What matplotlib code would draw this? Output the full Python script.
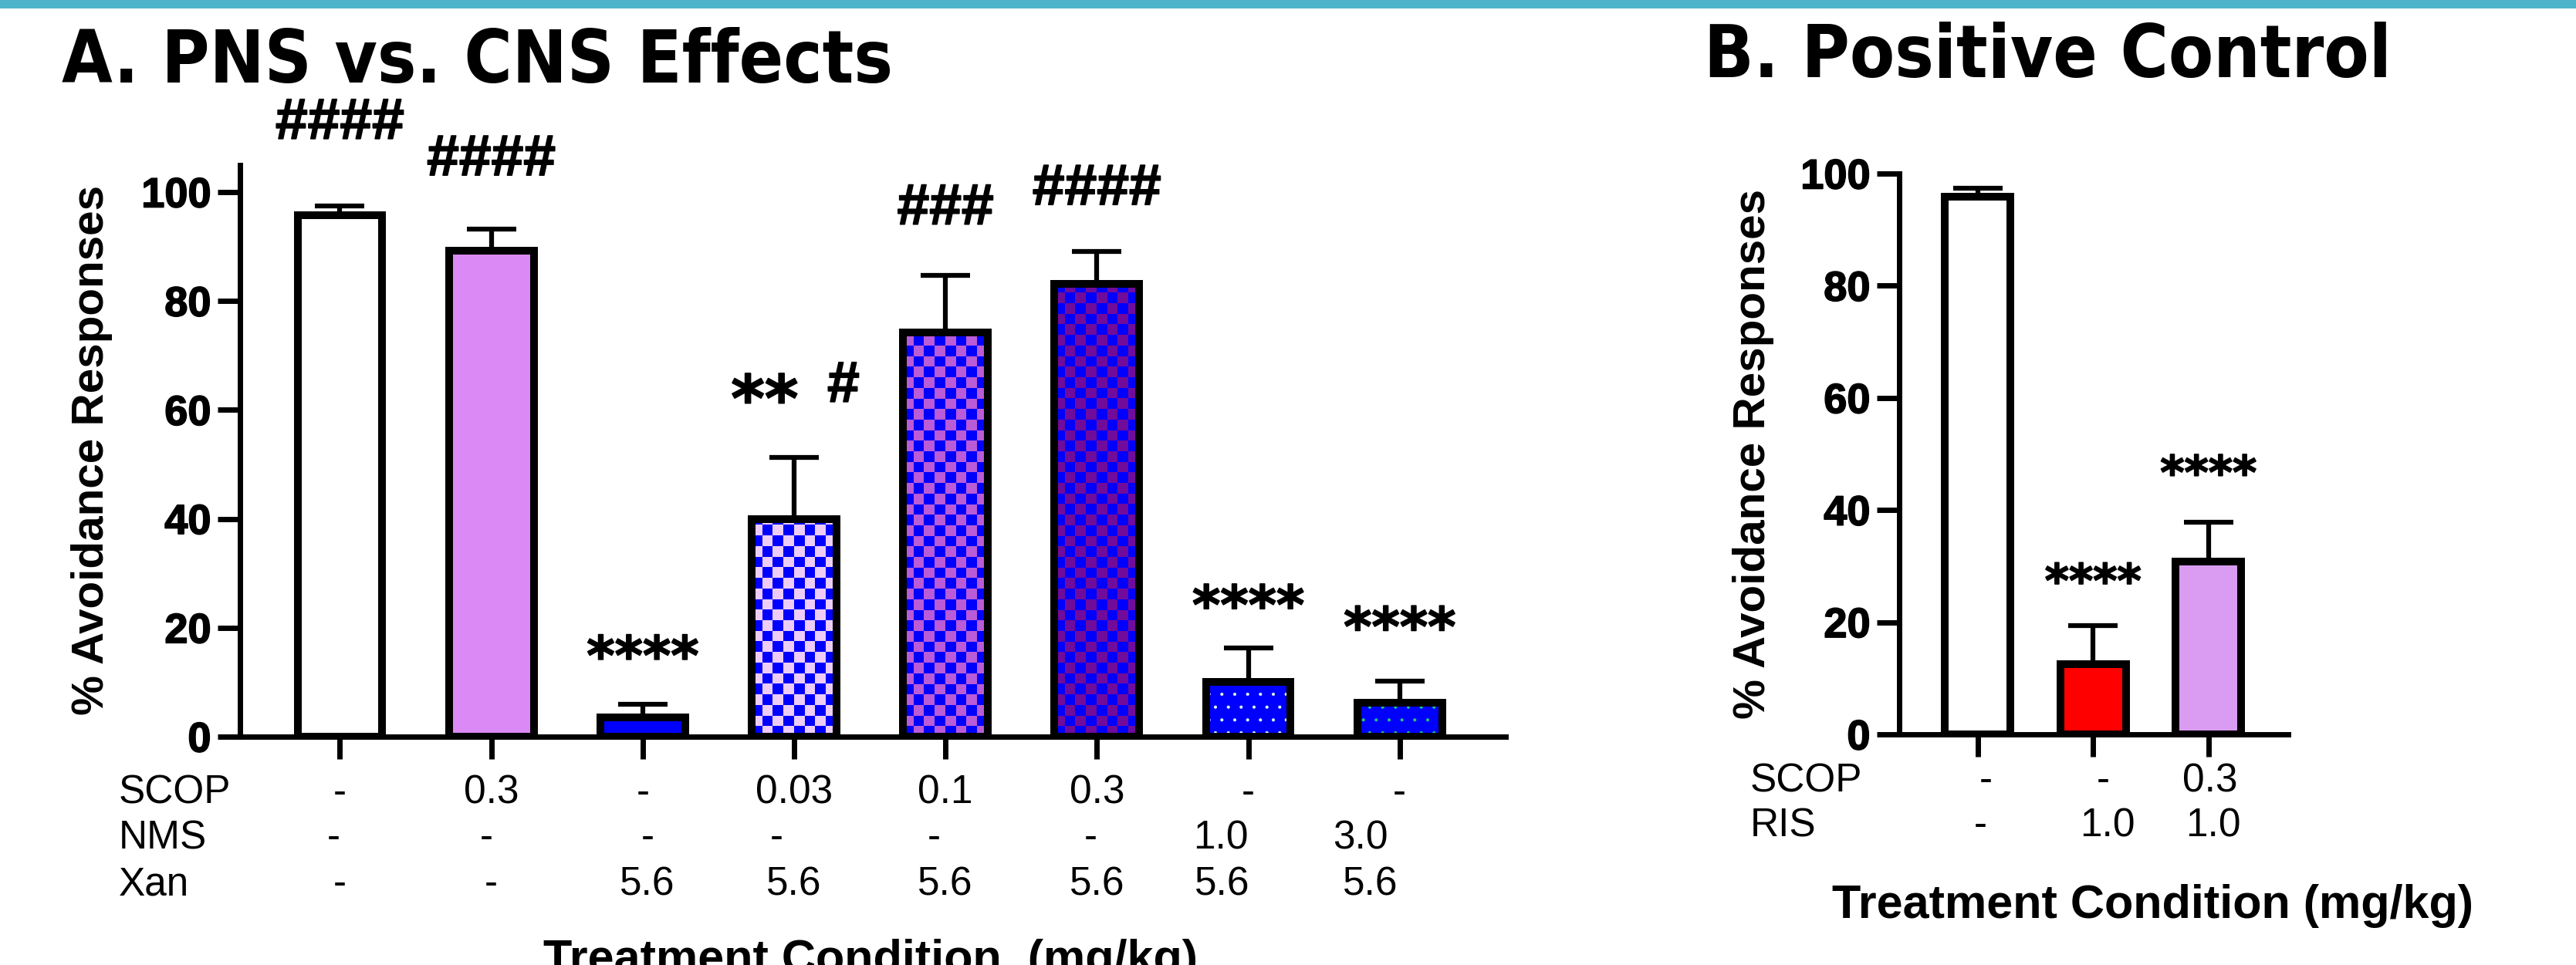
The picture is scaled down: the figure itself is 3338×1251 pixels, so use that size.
import numpy as np
import matplotlib
matplotlib.use("Agg")
import matplotlib.pyplot as plt
import matplotlib.patheffects as pe
from matplotlib.patches import Rectangle

########## Canvas (pixels of the reference)
W, H = 3338, 1251
DPI = 100

########## Data: A. PNS vs. CNS effects
a_means = [95.7, 89.2, 3.5, 40.0, 74.2, 83.1, 10.1, 6.2]
a_sem = [1.7, 4.0, 2.4, 11.3, 10.5, 6.0, 6.2, 4.0]
a_sig = ["####", "####", "****", "** #", "###", "####", "****", "****"]
a_sig_y = [109.8, 103.1, 14.4, 61.5, 94.1, 97.7, 23.7, 19.7]   # bottom of the marks
a_rows = ["SCOP", "NMS", "Xan"]
a_scop = ["-", "0.3", "-", "0.03", "0.1", "0.3", "-", "-"]
a_nms = ["-", "-", "-", "-", "-", "-", "1.0", "3.0"]
a_xan = ["-", "-", "5.6", "5.6", "5.6", "5.6", "5.6", "5.6"]

########## Data: B. Positive control
b_means = [95.9, 12.5, 30.8]
b_sem = [1.5, 6.9, 7.0]
b_sig = ["", "****", "****"]
b_sig_y = [0, 27.0, 46.3]
b_rows = ["SCOP", "RIS"]
b_scop = ["-", "-", "0.3"]
b_ris = ["-", "1.0", "1.0"]

########## Bar styles
BLUE = "#0000FF"
a_face = ["white", "#DB89F5", BLUE, BLUE, BLUE, BLUE, BLUE, BLUE]
a_check = [None, None, None, "#EDCCF8", "#BA5BD7", "#710B9B", None, None]
a_dots = [None, None, None, None, None, None, "#E6FFF0", "#22CC77"]
b_face = ["white", "#FF0000", "#D99CF2"]

########## Small hand placement of the table entries (pixels)
a_nudge = [[0, 0, 0, 0, 0, 0, 0, 0],
           [-8, -6, 6, -23, -15, -8, -36, -51],
           [0, 0, 6, 0, 0, 0, -34, -38]]
b_nudge = [[11, 13, 2], [4, 19, 6]]

plt.rcParams["font.family"] = "Liberation Sans"
plt.rcParams["hatch.linewidth"] = 0.5

fig = plt.figure(figsize=(W / DPI, H / DPI), dpi=DPI)


def fx(px):
    return px / W


def fy(py):
    return 1 - py / H


# cyan band on top
fig.add_artist(Rectangle((0, fy(11)), 1, 11 / H, transform=fig.transFigure,
                         color="#4DB3CB", lw=0))

TITLE_KW = dict(fontsize=68, fontweight="bold", family="DejaVu Sans",
                fontstretch="condensed", va="baseline", ha="left")
fig.text(fx(80), fy(107), "A. PNS vs. CNS Effects", **TITLE_KW)
fig.text(fx(2208), fy(100), "B. Positive Control", **TITLE_KW)

BOLDER = [pe.withStroke(linewidth=1.2, foreground="black")]


def style_axes(ax, ylim, xlim):
    ax.set_xlim(*xlim)
    ax.set_ylim(*ylim)
    ax.set_autoscale_on(False)
    for s in ["top", "right"]:
        ax.spines[s].set_visible(False)
    for s in ["left", "bottom"]:
        ax.spines[s].set_linewidth(5)
    ax.set_yticks([0, 20, 40, 60, 80, 100])
    ax.tick_params(axis="both", direction="out", length=21, width=5, pad=6)
    ax.tick_params(axis="y", labelsize=39)
    for lab in ax.get_yticklabels():
        lab.set_fontweight("bold")
        lab.set_path_effects(BOLDER)
    ax.set_xticklabels([])


def checker(ax, bar, c_other, cell_px=13.7):
    x0, w, h = bar.get_x(), bar.get_width(), bar.get_height()
    p0 = ax.transData.transform((0, 0))
    p1 = ax.transData.transform((1, 1))
    px_x, px_y = p1[0] - p0[0], p1[1] - p0[1]
    ncol = max(1, int(round(w * px_x / cell_px)))
    cell_h = cell_px / px_y
    nrow = int(np.ceil(h / cell_h))
    mask = np.add.outer(np.arange(nrow), np.arange(ncol)) % 2
    c1 = np.array(matplotlib.colors.to_rgb(BLUE))
    c2 = np.array(matplotlib.colors.to_rgb(c_other))
    img = np.where(mask[..., None] == 0, c1, c2)
    im = ax.imshow(img, extent=(x0, x0 + w, 0, nrow * cell_h), origin="lower",
                   aspect="auto", interpolation="nearest", zorder=2.5)
    im.set_clip_path(bar)


def bars(ax, means, sem, faces, width, checks=None, dots=None):
    x = np.arange(len(means))
    ax.errorbar(x, means, yerr=[np.zeros(len(means)), sem], fmt="none",
                ecolor="black", elinewidth=4.5, capsize=23, capthick=4.5,
                zorder=1.5)
    drawn = ax.bar(x, means, width=width, color=faces, linewidth=0, zorder=2)
    for i, b in enumerate(drawn):
        if checks is not None and checks[i]:
            checker(ax, b, checks[i])
        if dots is not None and dots[i]:
            ax.bar(x[i], means[i], width=width, facecolor="none",
                   edgecolor=dots[i], hatch=".", linewidth=0, zorder=2.6)
    ax.bar(x, means, width=width, fill=False, edgecolor="black",
           linewidth=7.2, zorder=3)
    ax.set_xticks(x)
    ax.set_xticklabels([])


STAR_DROP = 0.30   # '*' sits this far (in em) above the baseline


def marks(ax, labels, ys, size_hash, size_star):
    kw = dict(textcoords="offset points", va="baseline", fontweight="bold",
              annotation_clip=False, path_effects=BOLDER)
    star = dict(kw, family="DejaVu Sans")
    for i, (s, y) in enumerate(zip(labels, ys)):
        if not s:
            continue
        parts = s.split()
        if len(parts) == 2:
            big = size_star * 1.2
            ax.annotate(parts[0], (i, y), xytext=(4, -STAR_DROP * big),
                        ha="right", fontsize=big, **star)
            ax.annotate(parts[1], (i, y), xytext=(31, 0), ha="left",
                        fontsize=size_hash, **kw)
        elif "*" in s:
            ax.annotate(s, (i, y), xytext=(0, -STAR_DROP * size_star),
                        ha="center", fontsize=size_star, **star)
        else:
            ax.annotate(s, (i, y), xytext=(0, 0), ha="center",
                        fontsize=size_hash, **kw)


def table(ax, row_names, rows, row_px, label_px, nudge):
    tr = matplotlib.transforms.blended_transform_factory(ax.transData,
                                                         fig.transFigure)
    for name, vals, py, nd in zip(row_names, rows, row_px, nudge):
        fig.text(fx(label_px), fy(py), name, fontsize=37, va="center",
                 ha="left")
        for i, v in enumerate(vals):
            ax.annotate(v, (i, fy(py)), xycoords=tr, xytext=(nd[i] * 0.72, 0),
                        textcoords="offset points", fontsize=37, va="center",
                        ha="center", annotation_clip=False)


############ Panel A
ax_a = fig.add_axes([fx(311), fy(955), fx(1951) - fx(311), (955 - 213.7) / H])
style_axes(ax_a, (0, 105), (-0.66, 7.70))
bars(ax_a, a_means, a_sem, a_face, 0.56, a_check, a_dots)
marks(ax_a, a_sig, a_sig_y, 54, 50)
table(ax_a, a_rows, [a_scop, a_nms, a_xan], [1028, 1087, 1147], 154, a_nudge)
fig.text(fx(119), fy(583), "% Avoidance Responses", rotation=90, fontsize=42,
         fontweight="bold", ha="center", va="center")
fig.text(fx(1128), fy(1261), "Treatment Condition  (mg/kg)", fontsize=44,
         fontweight="bold", ha="center", va="baseline")

############ Panel B
ax_b = fig.add_axes([fx(2461), fy(952), fx(2965) - fx(2461), 727 / H])
style_axes(ax_b, (0, 100), (-0.68, 2.69))
bars(ax_b, b_means, b_sem, b_face, 0.57)
marks(ax_b, b_sig, b_sig_y, 46, 43)
table(ax_b, b_rows, [b_scop, b_ris], [1013, 1071], 2268, b_nudge)
fig.text(fx(2272), fy(588), "% Avoidance Responses", rotation=90, fontsize=42,
         fontweight="bold", ha="center", va="center")
fig.text(fx(2789), fy(1190), "Treatment Condition (mg/kg)", fontsize=44,
         fontweight="bold", ha="center", va="baseline")

fig.savefig("out.png", dpi=DPI)
